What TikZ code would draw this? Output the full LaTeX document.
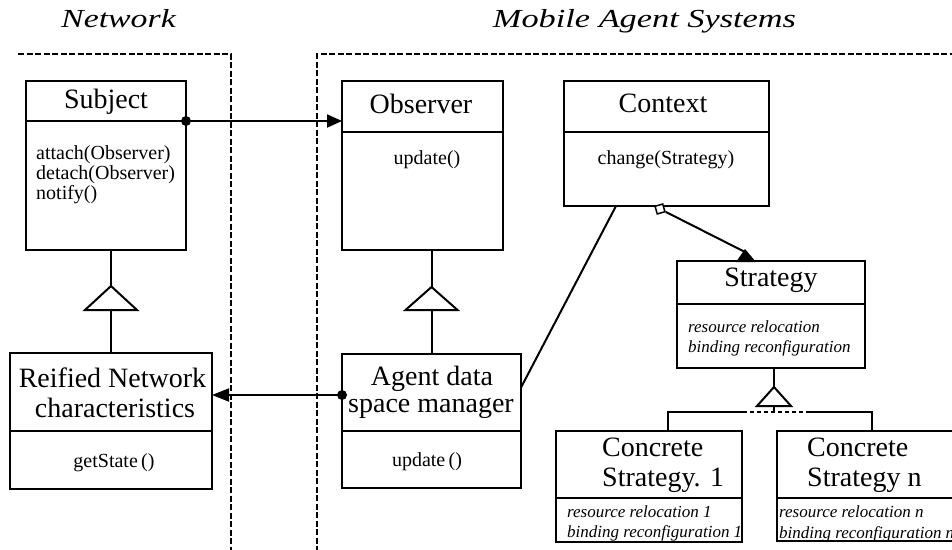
\documentclass[tikz,border=0pt]{standalone}
\usepackage{fontspec}
\setmainfont{Liberation Serif}
\usetikzlibrary{arrows.meta}
\begin{document}
\begin{tikzpicture}[x=1pt,y=-1pt,
  box/.style={draw, line width=2pt, anchor=north west, inner sep=0pt, outer sep=0pt},
  ln/.style={line width=2pt},
  region/.style={line width=2.2pt, dash pattern=on 6pt off 2.5pt},
  titlefont/.style={font=\fontsize{26}{28}\selectfont\itshape, anchor=base, inner sep=0pt},
  head/.style={font=\fontsize{28}{30}\selectfont, anchor=base, inner sep=0pt},
  headl/.style={font=\fontsize{28}{30}\selectfont, anchor=base west, inner sep=0pt},
  op/.style={font=\fontsize{20}{20}\selectfont, anchor=base west, inner sep=0pt},
  opc/.style={font=\fontsize{20}{20}\selectfont, anchor=base, inner sep=0pt},
  note/.style={font=\fontsize{17}{20}\selectfont\itshape, anchor=base west, inner sep=0pt},
  dot/.style={fill=black},
  gentri/.style={ln, fill=white, line join=miter},
]
\useasboundingbox (0,0) rectangle (952,549);
\clip (0,0) rectangle (952,549);

% region titles
\node[titlefont] (netTitle) at (118.5,27) {\scalebox{1.3}[1]{Network}};
\node[titlefont] (masTitle) at (644.5,27) {\scalebox{1.32}[1]{Mobile Agent Systems}};

% region boundaries
\draw[region] (18,54) -- (231,54) -- (231,552);
\draw[region] (317,552) -- (317,54) -- (955,54);

% Subject
\node[box, minimum width=160pt, minimum height=40pt] (subjH) at (26,81) {};
\node[box, minimum width=160pt, minimum height=129pt] (subjB) at (26,121) {};
\node[head] (subjT) at (106,108) {Subject};
\node[op] (subjO1) at (36,159) {attach(Observer)};
\node[op] (subjO2) at (36,179) {detach(Observer)};
\node[op] (subjO3) at (36,199) {notify()};

% Observer
\node[box, minimum width=161pt, minimum height=51pt] (obsH) at (342,81) {};
\node[box, minimum width=161pt, minimum height=118pt] (obsB) at (342,132) {};
\node[head] (obsT) at (421,113) {Observer};
\node[opc] (obsO1) at (427,164) {update()};

% Context
\node[box, minimum width=205pt, minimum height=51pt] (ctxH) at (564,81) {};
\node[box, minimum width=205pt, minimum height=74pt] (ctxB) at (564,132) {};
\node[head] (ctxT) at (663,112) {Context};
\node[opc] (ctxO1) at (666,164) {change(Strategy)};

% Strategy
\node[box, minimum width=188pt, minimum height=43pt] (stH) at (677,261) {};
\node[box, minimum width=188pt, minimum height=64pt] (stB) at (677,304) {};
\node[head] (stT) at (771,286) {Strategy};
\node[note] (stN1) at (688,332) {resource relocation};
\node[note] (stN2) at (688,352) {binding reconfiguration};

% Reified Network characteristics
\node[box, minimum width=202pt, minimum height=78pt] (reH) at (10,353) {};
\node[box, minimum width=202pt, minimum height=58pt] (reB) at (10,431) {};
\node[head] (reT1) at (112.5,387) {Reified Network};
\node[head] (reT2) at (115,417) {characteristics};
\node[opc] (reO1) at (114,467) {getState\,()};

% Agent data space manager
\node[box, minimum width=179pt, minimum height=77pt] (agH) at (342,354) {};
\node[box, minimum width=179pt, minimum height=57pt] (agB) at (342,431) {};
\node[head] (agT1) at (432,385) {Agent data};
\node[head] (agT2) at (431,412) {space manager};
\node[opc] (agO1) at (427,466) {update\,()};

% Concrete Strategy 1
\node[box, minimum width=186pt, minimum height=67pt] (c1H) at (556,431) {};
\node[box, minimum width=186pt, minimum height=44pt] (c1B) at (556,498) {};
\node[headl] (c1T1) at (602,456) {Concrete};
\node[headl] (c1T2) at (602,486) {Strategy. 1};
\node[note] (c1N1) at (567,517) {resource relocation 1};
\node[note] (c1N2) at (567,537) {binding reconfiguration 1};

% Concrete Strategy n
\node[box, minimum width=178pt, minimum height=67pt] (cnH) at (777,431) {};
\node[box, minimum width=178pt, minimum height=43pt] (cnB) at (777,498) {};
\node[headl] (cnT1) at (807,456) {Concrete};
\node[headl] (cnT2) at (807,486) {Strategy n};
\node[note] (cnN1) at (779,517) {resource relocation n};
\node[note] (cnN2) at (779,538) {binding reconfiguration n};

% Subject notifies Observer
\draw[ln, -{Triangle[length=15pt, width=13pt]}] (subjH.south east) -- (obsH.west |- subjH.south east);
\fill[dot] (subjH.south east) circle (5pt);

% Agent data space manager reports to the network characteristics
\coordinate (agOut) at ([yshift=-2.5pt]agH.west);
\draw[ln, -{Triangle[length=17pt, width=13pt]}] (agOut) -- (reH.east |- agOut);
\fill[dot] (agOut) circle (5pt);

% Context associated with the agent data space manager
\draw[ln] ([xshift=52pt]ctxB.south west) -- ([yshift=5pt]agH.east);

% Context aggregates Strategy
\node[draw, line width=1.5pt, fill=white, minimum size=8pt, inner sep=0pt, rotate=16] (agg) at (660,209) {};
\coordinate (stTip) at (745,252);
\draw[ln] (agg) -- (stTip);
\fill (736,262) -- (745,249) -- (756,262) -- cycle;

% Generalization: Subject <- Reified Network characteristics
\draw[ln] (reH.north |- subjB.south) -- ++(0,36) coordinate (g1);
\draw[gentri] (g1) -- ++(-26,24) -- ++(52,0) -- cycle;
\draw[ln] ([yshift=-24pt]g1) -- (reH.north);

% Generalization: Observer <- Agent data space manager
\draw[ln] (agH.north |- obsB.south) -- ++(0,37) coordinate (g2);
\draw[gentri] (g2) -- ++(-26,23) -- ++(52,0) -- cycle;
\draw[ln] ([yshift=-23pt]g2) -- (agH.north);

% Generalization: Strategy <- concrete strategies
\draw[ln] ([xshift=3pt]stB.south) -- ++(0,19) coordinate (g3);
\draw[gentri] (g3) -- ++(-17,19) -- ++(34,0) -- cycle;
\coordinate (barL) at (668,412);
\coordinate (barR) at (872,412);
\coordinate (barM) at (g3 |- barL);
\draw[ln] ([yshift=-19pt]g3) -- (barM);
\draw[ln] (c1H.north -| barL) -- (barL) -- (743,412);
\draw[ln] (cnH.north -| barR) -- (barR) -- (808,412);
\draw[line width=1.2pt, dash pattern=on 4pt off 3pt] (743,412) -- (808,412);
\end{tikzpicture}
\end{document}
